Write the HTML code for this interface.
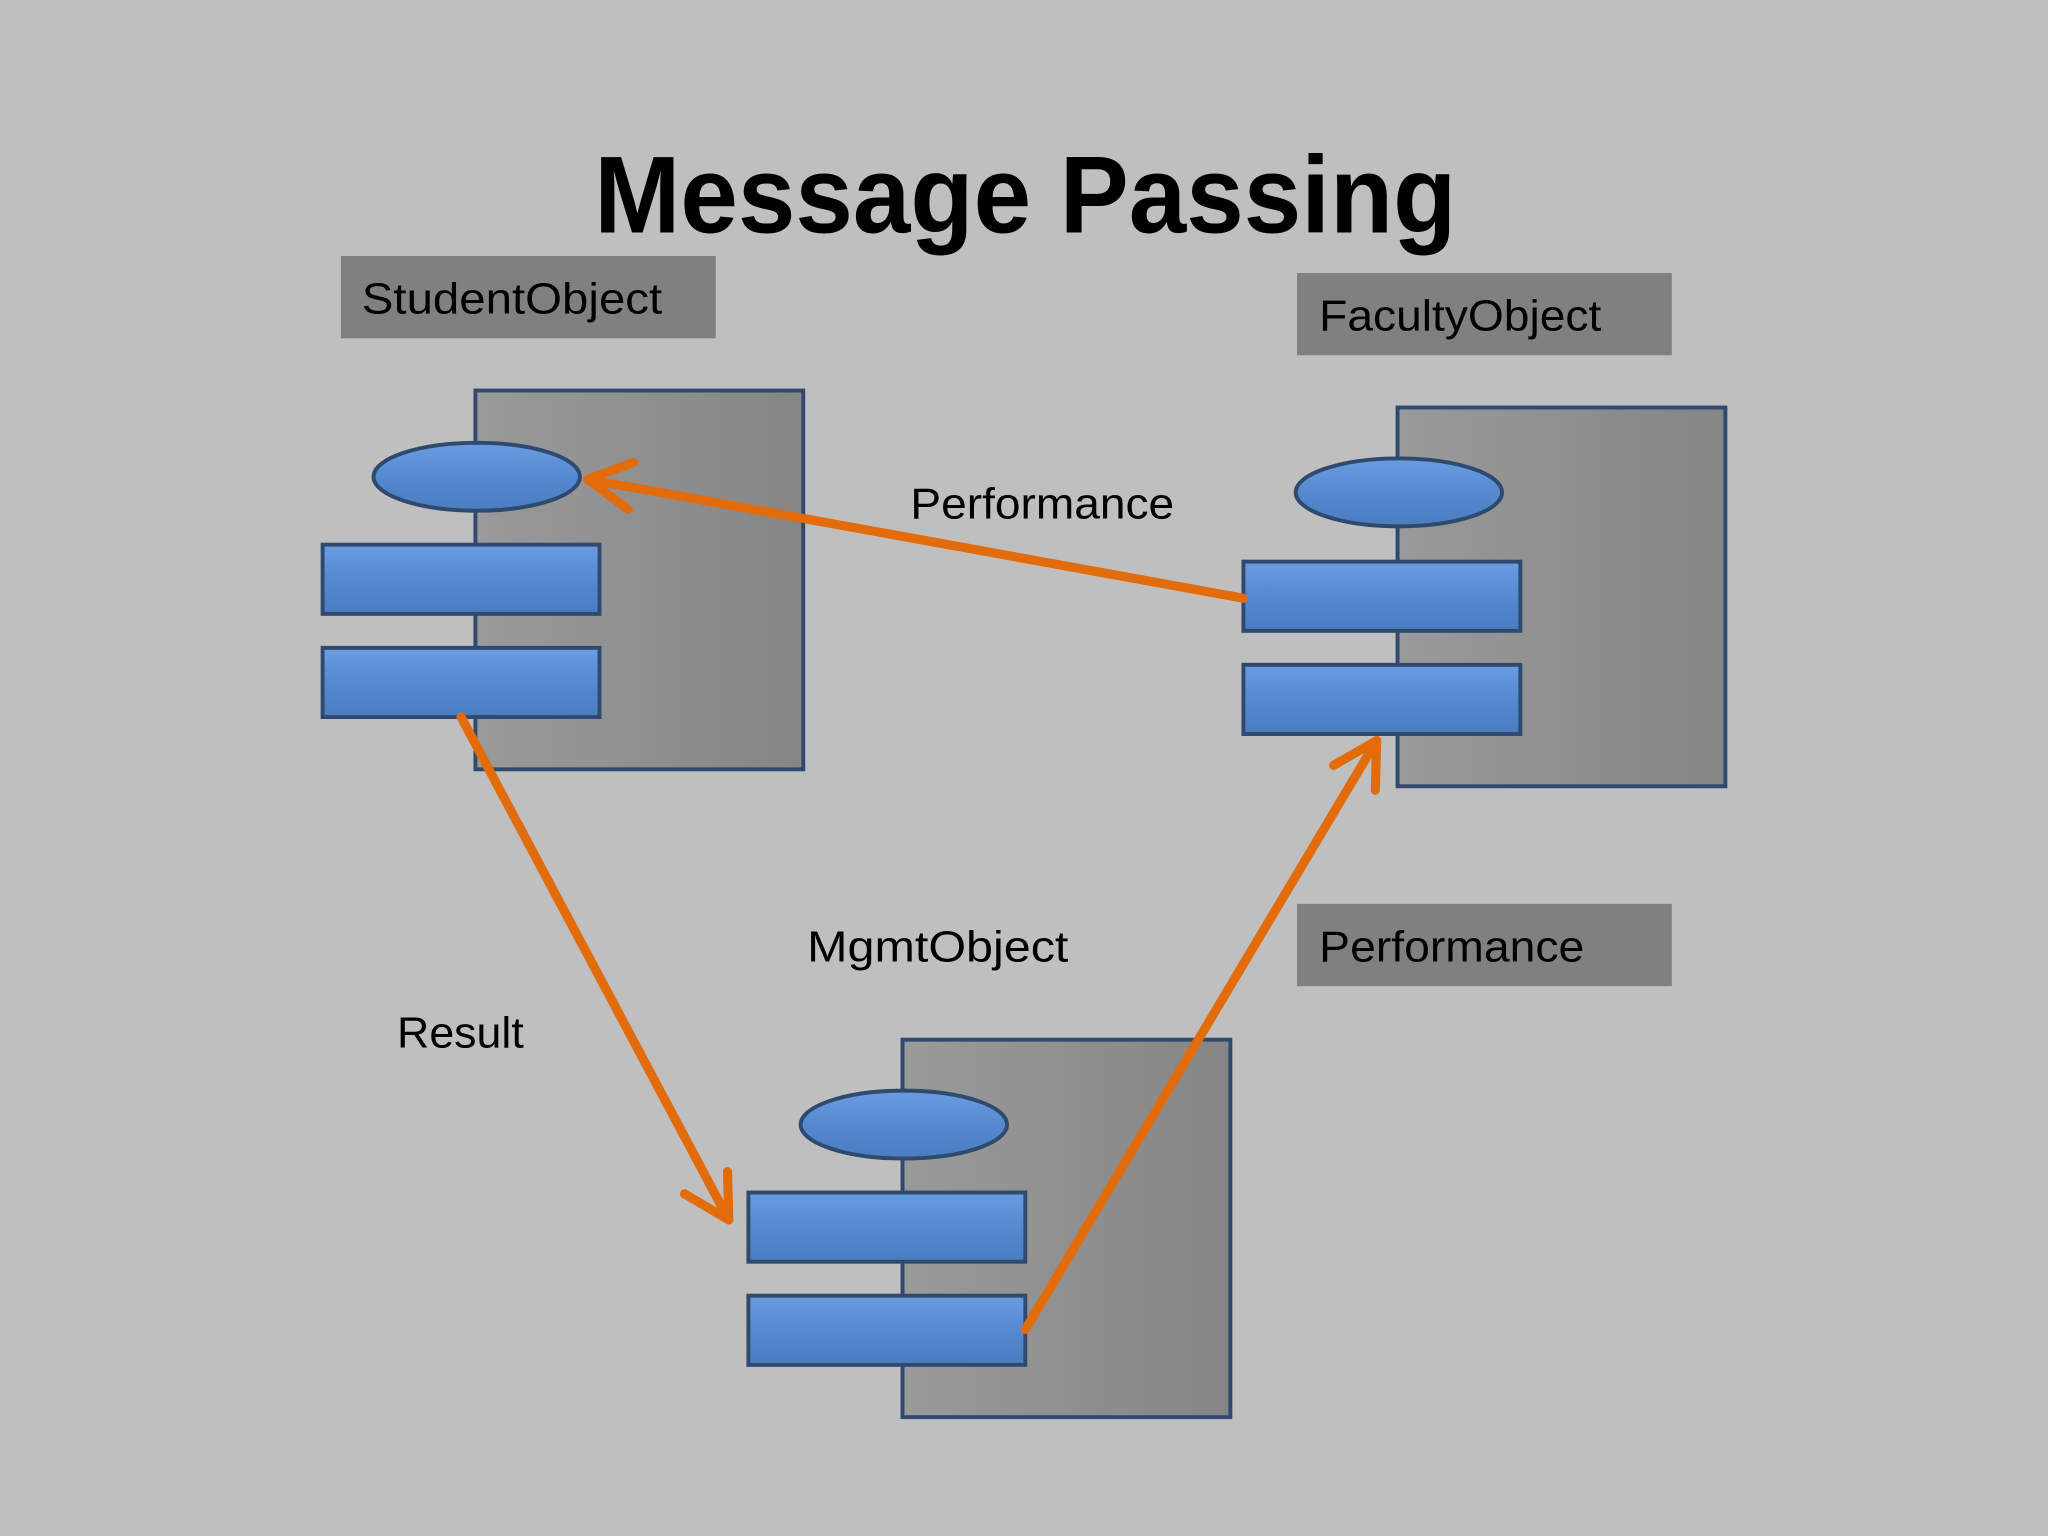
<!DOCTYPE html>
<html><head><meta charset="utf-8"><style>html,body{margin:0;padding:0;background:#c0bfc0}svg{display:block}</style></head>
<body>
<svg width="2048" height="1536" viewBox="0 0 1568 1176" xmlns="http://www.w3.org/2000/svg">
<defs>
<linearGradient id="g" x1="0" y1="0" x2="1" y2="0"><stop offset="0" stop-color="#9a9a9a"/><stop offset="1" stop-color="#858585"/></linearGradient>
<linearGradient id="b" x1="0" y1="0" x2="0" y2="1"><stop offset="0" stop-color="#6a9ce0"/><stop offset="0.5" stop-color="#558ad0"/><stop offset="1" stop-color="#4a7cc0"/></linearGradient>
</defs>
<rect width="1568" height="1176" fill="#c0bfc0"/>
<text x="785" y="178" text-anchor="middle" font-family="Liberation Sans, sans-serif" font-weight="bold" font-size="84" textLength="660" lengthAdjust="spacingAndGlyphs" fill="#000">Message Passing</text>

<g font-family="Liberation Sans, sans-serif" font-size="33" fill="#000">
<rect x="261" y="196" width="287" height="63" fill="#808080"/>
<text x="277" y="240" textLength="230" lengthAdjust="spacingAndGlyphs">StudentObject</text>
<rect x="993" y="209" width="287" height="63" fill="#808080"/>
<text x="1010" y="253" textLength="216" lengthAdjust="spacingAndGlyphs">FacultyObject</text>
<rect x="993" y="692" width="287" height="63" fill="#808080"/>
<text x="1010" y="736" textLength="203" lengthAdjust="spacingAndGlyphs">Performance</text>
<text x="697" y="397" textLength="202" lengthAdjust="spacingAndGlyphs">Performance</text>
<text x="618" y="736" textLength="200" lengthAdjust="spacingAndGlyphs">MgmtObject</text>
<text x="304" y="802" textLength="97" lengthAdjust="spacingAndGlyphs">Result</text>
</g>

<g stroke="#2f4a6e" stroke-width="3">
<rect x="364" y="299" width="251" height="290" fill="url(#g)"/>
<ellipse cx="365" cy="365" rx="79" ry="26" fill="url(#b)"/>
<rect x="247" y="417" width="212" height="53" fill="url(#b)"/>
<rect x="247" y="496" width="212" height="53" fill="url(#b)"/>

<rect x="1070" y="312" width="251" height="290" fill="url(#g)"/>
<ellipse cx="1071" cy="377" rx="79" ry="26" fill="url(#b)"/>
<rect x="952" y="430" width="212" height="53" fill="url(#b)"/>
<rect x="952" y="509" width="212" height="53" fill="url(#b)"/>

<rect x="691" y="796" width="251" height="289" fill="url(#g)"/>
<ellipse cx="692" cy="861" rx="79" ry="26" fill="url(#b)"/>
<rect x="573" y="913" width="212" height="53" fill="url(#b)"/>
<rect x="573" y="992" width="212" height="53" fill="url(#b)"/>
</g>

<g stroke="#e36c0a" stroke-width="7" fill="none" stroke-linecap="round" stroke-linejoin="round">
<line x1="952" y1="458" x2="450" y2="367"/>
<polyline points="485,354 450,367 481,390"/>
<line x1="353" y1="549" x2="558" y2="934"/>
<polyline points="524,914 558,934 557,897"/>
<line x1="785" y1="1018" x2="1054" y2="567"/>
<polyline points="1021,586 1054,567 1053,605"/>
</g>
</svg>
</body></html>
